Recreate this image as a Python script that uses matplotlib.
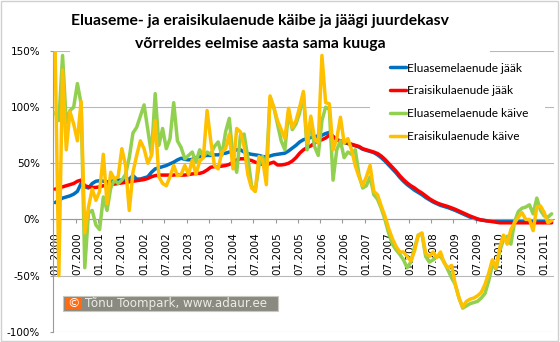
import matplotlib
matplotlib.use("Agg")
import matplotlib.pyplot as plt
from matplotlib.patches import Rectangle

# ---------------- data (monthly, 01.2000 ... 03.2011) ----------------
housing_balance = [15, 17, 19, 20, 21, 22.5, 25, 32, 29, 28, 32, 34, 34.5, 34, 33.5, 34, 34.5, 35, 35, 35,
                   36, 39, 36, 36, 37, 38, 42, 45, 46, 47, 48, 49.5, 51, 53, 54.5, 53.5, 53, 53.5, 55, 56,
                   56.5, 57, 57, 57.5, 57.5, 58.5, 59, 60, 61, 62, 62, 60, 58.7, 58, 57.5, 57, 56, 55.7, 56.5, 57.5,
                   58, 58.5, 59, 61, 63.5, 66, 69, 71, 72, 73, 73.5, 74.5, 75, 76.5, 77.5, 74, 71, 69.5, 68.5, 67.5,
                   66.5, 65.5, 64.5, 62.5, 61.5, 60.5, 59.5, 57.5, 55, 52, 48.5, 45, 41.5, 37.5, 34, 31, 28.5, 26, 24, 22,
                   19.5, 17.5, 15.5, 14, 12.5, 11.5, 10.5, 9.3, 8, 6.5, 5, 3.5, 2, 1, 0, -0.5, -1, -1.5, -1.5, -1.5,
                   -1.5, -1.5, -1.5, -1.5, -1.5, -1.5, -1.5, -1.5, -1.5, -1.5, -1.5, -1.5, -1.5, -1.5, -1.5]
private_balance = [27, 28, 29, 30, 31, 32, 34, 35, 30, 29, 28.5, 28.5, 29, 30, 30.5, 31, 31.5, 32, 32.5, 33,
                   33.5, 34, 34.5, 35, 35.5, 36.5, 38, 39, 39.5, 39.5, 39.5, 39.5, 39.5, 40, 39.5, 39.5, 40, 40.5, 41, 41,
                   42, 44, 46.5, 47, 47, 47.5, 48, 49, 51, 53, 54, 54, 53, 52.5, 51, 50, 49, 48.3, 50, 51,
                   48.5, 48.5, 49, 50, 52, 55, 59, 62, 64, 65.5, 68, 70, 71, 72.5, 75, 73.5, 71, 70, 69, 68,
                   67, 66, 65, 63, 62, 61, 60, 58.7, 56.5, 53.5, 50, 46.5, 43, 39, 35.5, 32.5, 30, 28, 25.5, 23.5,
                   21, 18.5, 16.5, 14.8, 13.5, 12.5, 11.5, 10.3, 9, 7.5, 6, 4.5, 3, 1.7, 0.5, -0.5, -1, -1.5, -2, -2.5,
                   -3, -3, -3, -3, -3, -3, -3, -3, -3, -3, -3, -3, -3, -3, -3]
housing_turnover = [95, 88, 146, 86, 97, 100, 121, 103, -43, 6, 8, -5, -9, 20, 8, 28, 35, 32, 35, 40,
                    55, 77, 82, 92, 102, 80, 58, 112, 66, 81, 63, 72, 104, 70, 64, 54, 57, 60, 51, 62,
                    56, 60, 58, 65, 69, 57, 78, 90, 55, 42, 75, 76, 55, 30, 25, 48, 56, 46, 108, 100,
                    85, 70, 62, 96, 80, 85, 95, 112, 62, 88, 65, 57, 88, 100, 98, 35, 62, 70, 55, 60,
                    58, 62, 40, 28, 30, 38, 22, 18, 10, 0, -12, -22, -27, -31, -36, -43, -38, -25, -14, -13,
                    -33, -38, -36, -33, -33, -38, -45, -52, -58, -70, -79, -77, -75, -74, -73, -70, -66, -55, -40, -44,
                    -28, -18, -15, -22, -2, 7, 10, 11, 13, 5, 19, 8, 3, 2, 5]
private_turnover = [150, -50, 133, 62, 96, 85, 70, 105, -12, 11, 27, 17, 25, 58, 14, 42, 36, 38, 63, 48,
                    8, 42, 57, 70, 63, 50, 57, 88, 38, 32, 30, 38, 48, 39, 40, 48, 40, 53, 40, 52,
                    55, 97, 70, 48, 45, 60, 63, 76, 45, 81, 78, 65, 40, 28, 25, 56, 53, 31, 110, 100,
                    88, 80, 72, 99, 82, 88, 100, 114, 68, 92, 72, 68, 146, 104, 103, 62, 72, 91, 68, 72,
                    62, 48, 38, 30, 38, 48, 25, 22, 12, 3, -8, -17, -24, -29, -29, -33, -37, -28, -14, -12,
                    -30, -33, -29, -34, -29, -39, -43, -41, -58, -70, -78, -73, -71, -70, -68, -65, -58, -48, -36, -43,
                    -25, -14, -22, -9, -3, 2, 6, 0, 0, -10, 11, 12, 6, -3, -1]

series_names = ["Eluasemelaenude jääk", "Eraisikulaenude jääk",
                "Eluasemelaenude käive", "Eraisikulaenude käive"]
series_colors = ["#0070C0", "#FF0000", "#92D050", "#FFC000"]

start_year = 2000
n_months = len(housing_balance)
tick_months = list(range(0, n_months, 6))
tick_labels = [f"{(m % 12) + 1:02d}.{start_year + m // 12}" for m in tick_months]
y_ticks = [-100, -50, 0, 50, 100, 150]
y_labels = [f"{v}%" for v in y_ticks]

title_lines = ["Eluaseme- ja eraisikulaenude käibe ja jäägi juurdekasv",
               "võrreldes eelmise aasta sama kuuga"]
credit_text = "Tõnu Toompark, www.adaur.ee"

# ---------------- figure ----------------
W, H = 560, 342
fig = plt.figure(figsize=(W / 100, H / 100), dpi=100)
fig.patch.set_facecolor("white")

def fx(px):
    return px / W

def fy(py):
    return 1 - py / H

ax_left, ax_right, ax_top, ax_bottom = 53.3, 553.5, 51.0, 331.7
ax = fig.add_axes([fx(ax_left), fy(ax_bottom), fx(ax_right - ax_left), (ax_bottom - ax_top) / H])

x = list(range(n_months))
all_series = [housing_balance, private_balance, housing_turnover, private_turnover]
for i, (vals, name, col) in enumerate(zip(all_series, series_names, series_colors)):
    ax.plot(x, vals, color=col, lw=2.5, label=name, solid_joinstyle="round",
            solid_capstyle="round", zorder=2 + i)

ax.set_xlim(-0.5, n_months - 0.5)
ax.set_ylim(-100, 150)

# gridlines / axes
ax.set_yticks(y_ticks)
ax.set_yticklabels(y_labels)
ax.yaxis.grid(True, color="#b8b8b8", lw=0.8)
ax.set_axisbelow(True)
for s in ["top", "right"]:
    ax.spines[s].set_visible(False)
ax.spines["left"].set_color("#9a9a9a")
ax.spines["left"].set_linewidth(0.8)
ax.spines["bottom"].set_position(("data", 0))
ax.spines["bottom"].set_color("#9a9a9a")
ax.spines["bottom"].set_linewidth(0.8)

ax.tick_params(axis="y", which="major", length=2.5, width=0.8, color="#9a9a9a",
               pad=7, labelsize=7.5, labelcolor="#000000")
ax.set_xticks(tick_months)
ax.set_xticklabels(tick_labels, rotation=90)
ax.set_xticks([m - 0.5 for m in tick_months], minor=True)
ax.tick_params(axis="x", which="major", length=0, pad=9.5, labelsize=7.5)
ax.tick_params(axis="x", which="minor", length=3, width=0.8, color="#9a9a9a", direction="out")
for lab in ax.get_yticklabels() + ax.get_xticklabels():
    lab.set_fontfamily("DejaVu Sans")

# white boxes of title and legend that hide parts of the gridlines
ax.add_patch(Rectangle((fx(70), fy(53)), fx(490 - 70), 53 / H, transform=fig.transFigure,
                       facecolor="white", edgecolor="none", zorder=1, clip_on=False))
ax.add_patch(Rectangle((fx(370), fy(150)), fx(545 - 370), (150 - 55) / H, transform=fig.transFigure,
                       facecolor="white", edgecolor="none", zorder=1, clip_on=False))

leg = ax.legend(loc="upper left", bbox_to_anchor=(fx(386), fy(59)), bbox_transform=fig.transFigure,
                frameon=False, handlelength=1.35, handletextpad=0.1, labelspacing=0.98,
                borderpad=0.3, borderaxespad=0, prop={"family": "Lato", "size": 8.6})
for line in leg.get_lines():
    line.set_linewidth(2.5)

# title
fig.text(fx(260), fy(25), title_lines[0], ha="center", va="baseline", fontsize=11.3,
         fontweight="bold", family="Lato")
fig.text(fx(260), fy(48), title_lines[1], ha="center", va="baseline", fontsize=11.3,
         fontweight="bold", family="Lato")

# credit box
fig.patches.append(Rectangle((fx(63), fy(310.5)), fx(278 - 63), 14.5 / H, transform=fig.transFigure,
                             facecolor="#8a8a80", edgecolor="#c8c8c0", lw=0.8, zorder=3))
fig.patches.append(Rectangle((fx(65), fy(309)), fx(17), 11.5 / H, transform=fig.transFigure,
                             facecolor="#FF6A13", edgecolor="none", zorder=4))
fig.text(fx(73.5), fy(303.3), "©", ha="center", va="center", fontsize=9, color="white",
         family="DejaVu Sans", zorder=5)
fig.text(fx(85), fy(303.3), credit_text, ha="left", va="center", fontsize=8.6,
         color="#ecece6", family="DejaVu Sans", zorder=5)

# outer border
fig.patches.append(Rectangle((fx(1), fy(340.5)), fx(557), 339.5 / H, transform=fig.transFigure,
                             facecolor="none", edgecolor="#d0d0d0", lw=1, zorder=0))

fig.savefig("out.png", dpi=100, facecolor="white")
